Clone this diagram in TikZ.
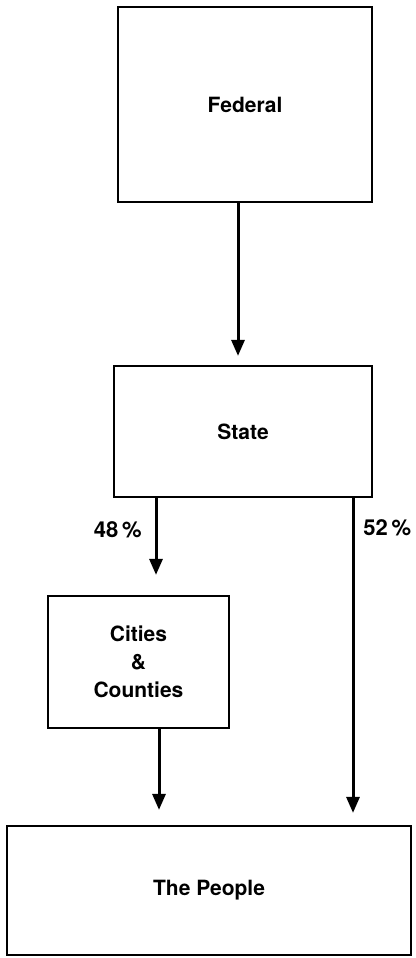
\documentclass[tikz,border=0pt]{standalone}
\usepackage{fontspec}
\setmainfont{TeX Gyre Heros}
\usetikzlibrary{arrows.meta}
\tikzset{
  level/.style={draw, line width=1.1pt, inner sep=0pt, align=center,
    font=\fontsize{10.5}{14}\selectfont\bfseries},
  flow/.style={line width=1.5pt, -{Triangle[width=6.5pt,length=8pt]}},
  share/.style={font=\fontsize{11}{13}\selectfont\bfseries, inner sep=0pt}
}
\begin{document}
\begin{tikzpicture}[x=0.5pt,y=-0.5pt]
                \useasboundingbox (0,0) rectangle (416,958);
                \node[level, minimum width=127pt, minimum height=97.5pt] (federal) at (245,104.5) {Federal};
                \node[level, minimum width=129pt, minimum height=65.5pt] (state) at (243,431.5) {State};
                \node[level, minimum width=90.5pt, minimum height=66pt] (cities) at (138.5,662) {Cities\\\&\\Counties};
                \node[level, minimum width=202pt, minimum height=64.5pt] (people) at (209,890.5) {The People};
                \node[share, anchor=east] (left share) at (142,530) {48\,\%};
                \node[share, anchor=west] (right share) at (363,528) {52\,\%};
                \draw[flow, shorten >=4.5pt] (federal.south -| 238,0) -- (state.north -| 238,0);
                \draw[flow, shorten >=10pt] (state.south -| 156,0) -- (cities.north -| 156,0);
                \draw[flow, shorten >=7.5pt] (cities.south -| 159,0) -- (people.north -| 159,0);
                \draw[flow, shorten >=6pt] (state.south -| 353,0) -- (people.north -| 353,0);
            \end{tikzpicture}
\end{document}
